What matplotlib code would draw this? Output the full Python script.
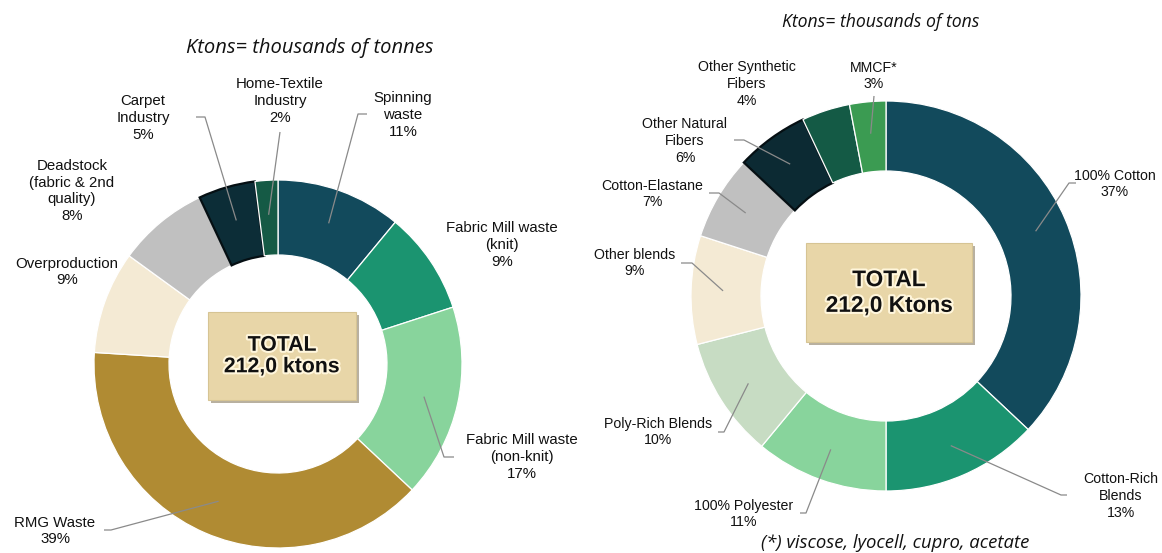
import matplotlib
matplotlib.use("Agg")
import matplotlib.pyplot as plt
import numpy as np
from matplotlib.patches import Rectangle
import matplotlib.patheffects as pe

# ---------------- data ----------------
left_labels = ["Spinning\nwaste", "Fabric Mill waste\n(knit)", "Fabric Mill waste\n(non-knit)",
               "RMG Waste", "Overproduction", "Deadstock\n(fabric & 2nd\nquality)",
               "Carpet\nIndustry", "Home-Textile\nIndustry"]
left_values = [11, 9, 17, 39, 9, 8, 5, 2]
left_colors = ['#124a5c', '#1b9470', '#88d49c', '#b08b33', '#f4ead4', '#c0c0c0', '#0c2d37', '#155a45']
left_title = "Ktons= thousands of tonnes"
left_total = "TOTAL\n212,0 ktons"

right_labels = ["100% Cotton", "Cotton-Rich\nBlends", "100% Polyester", "Poly-Rich Blends",
                "Other blends", "Cotton-Elastane", "Other Natural\nFibers",
                "Other Synthetic\nFibers", "MMCF*"]
right_values = [37, 13, 11, 10, 9, 7, 6, 4, 3]
right_colors = ['#124a5c', '#1b9470', '#88d49c', '#c7dcc3', '#f4ead4', '#c0c0c0', '#0c2a33', '#145a45', '#3b9b52']
right_title = "Ktons= thousands of tons"
right_total = "TOTAL\n212,0 Ktons"
footnote = "(*) viscose, lyocell, cupro, acetate"

# ---------------- layout (pixel coords, y from top) ----------------
W, H = 1162, 553
def Y(y):
    return H - y

L_center, L_R, L_r = (278, 364), 184, 109
R_center, R_R, R_r = (886, 296), 195, 125

# label centre positions and leader elbows (None = no leader)
left_text_pos = [(403, 115), (502, 245), (522, 457), (55, 531), (67, 272), (72, 191), (143, 118), (280, 101)]
left_elbow = [[(358, 114), (367, 114)], None, [(444, 457), (454, 457)], [(111, 530), (104, 530)],
              None, None, [(205, 117), (196, 117)], [(280, 132)]]

right_text_pos = [(1115, 184), (1121, 496), (744, 514), (658, 432), (635, 263), (652, 194),
                  (685, 141), (747, 84), (874, 76)]
right_elbow = [[(1069, 183), (1076, 183)], [(1061, 495), (1067, 495)], [(806, 513), (800, 513)],
               [(724, 432), (718, 432)], [(692, 263), (681, 263)], [(719, 193), (709, 193)],
               [(744, 140), (734, 140)], None, [(874, 96)]]

fig = plt.figure(figsize=(W / 100, H / 100), dpi=100)
ax = fig.add_axes([0, 0, 1, 1])

label_font = ['Liberation Sans', 'DejaVu Sans']


def donut(values, labels, colors, center, R, r, text_pos, elbows, fs, ls):
    cx, cy = center[0], Y(center[1])
    wedges, _ = ax.pie(values, colors=colors, radius=R, center=(cx, cy), startangle=90,
                       counterclock=False, frame=True,
                       wedgeprops=dict(width=R - r, edgecolor='white', linewidth=0.9))
    # darkest wedges carry a dark outline in the reference
    for w, c in zip(wedges, colors):
        if c in ('#0c2d37', '#0c2a33'):
            w.set_edgecolor('#050f13')
            w.set_linewidth(1.6)
    total = float(sum(values))
    cum = 0.0
    for v, lab, tp, el in zip(values, labels, text_pos, elbows):
        mid = 90 - 360 * (cum + v / 2) / total
        cum += v
        pct = int(round(100 * v / total))
        ax.text(tp[0], Y(tp[1]), f"{lab}\n{pct}%", ha='center', va='center', fontsize=fs,
                family=label_font, color='#111111', linespacing=ls)
        if el is not None:
            ra = (R + r) / 2 + 3
            ax_ = cx + ra * np.cos(np.radians(mid))
            ay_ = cy + ra * np.sin(np.radians(mid))
            xs = [ax_] + [p[0] for p in el]
            ys = [ay_] + [Y(p[1]) for p in el]
            ax.plot(xs, ys, color='#8a8a8a', lw=0.9, solid_capstyle='butt', zorder=5)


donut(left_values, left_labels, left_colors, L_center, L_R, L_r, left_text_pos, left_elbow, 10.8, 1.27)
donut(right_values, right_labels, right_colors, R_center, R_R, R_r, right_text_pos, right_elbow, 10.2, 1.24)
ax.set_xlim(0, W)
ax.set_ylim(0, H)
ax.set_aspect('equal')
ax.axis('off')


def total_box(x0, y0, x1, y1, txt, fs, ls):
    ax.add_patch(Rectangle((x0 + 3, Y(y1) - 3), x1 - x0, y1 - y0, facecolor='#b8b0a0', edgecolor='none', zorder=6))
    ax.add_patch(Rectangle((x0, Y(y1)), x1 - x0, y1 - y0, facecolor='#e8d6a8', edgecolor='#d6c494',
                           lw=0.8, zorder=7))
    t = ax.text((x0 + x1) / 2, Y((y0 + y1) / 2), txt, ha='center', va='center', fontsize=fs,
                fontweight='bold', family=label_font, color='#111111', linespacing=ls, zorder=8)
    t.set_path_effects([pe.withStroke(linewidth=3, foreground='#fff6dc')])


total_box(208, 312, 356, 400, left_total, 15.3, 1.17)
total_box(806, 243, 972, 342, right_total, 16.3, 1.15)

title_font = ['Open Sans', 'DejaVu Sans']
ax.text(310, Y(48), left_title, ha='center', va='center', fontsize=14.5, style='italic',
        family=title_font, color='#111111')
ax.text(881, Y(22), right_title, ha='center', va='center', fontsize=12.7, style='italic',
        family=title_font, color='#111111')
ax.text(895, Y(543), footnote, ha='center', va='center', fontsize=13.3, style='italic',
        family=title_font, color='#111111')

fig.savefig("out.png", dpi=100)
